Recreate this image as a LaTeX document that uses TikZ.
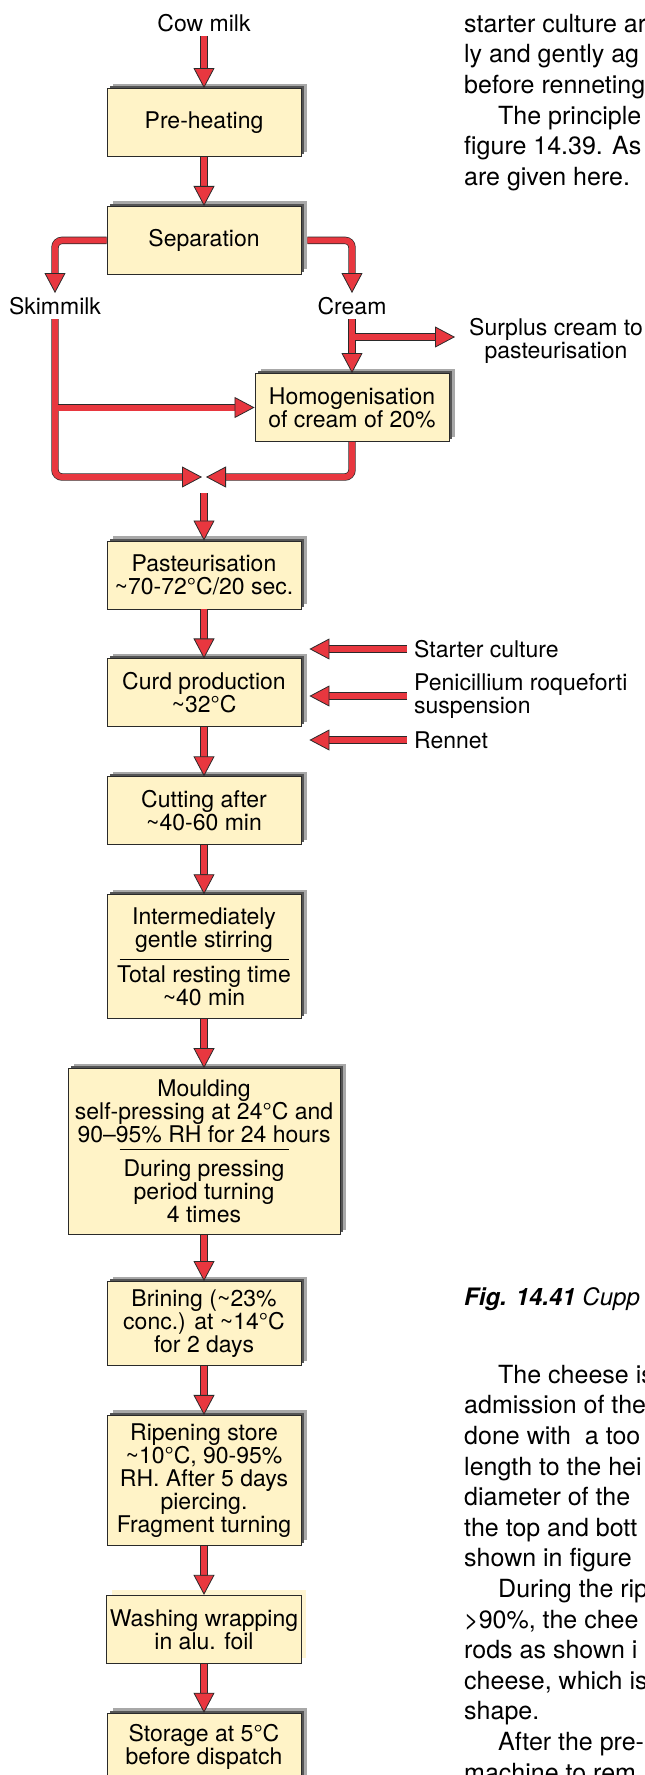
\documentclass[tikz,border=0pt]{standalone}
\usepackage{fontspec}
\setmainfont{TeX Gyre Heros}
\usepackage{tikz}
\usetikzlibrary{arrows.meta,positioning,calc,shadows}
\definecolor{flowred}{HTML}{E8373F}
\definecolor{edge}{HTML}{2A2A2A}
\definecolor{cheese}{HTML}{FFF3C7}
\definecolor{shlight}{HTML}{A8A8A8}
\definecolor{shdark}{HTML}{555555}
\definecolor{shpale}{HTML}{FFF5D2}

\begin{document}
\begin{tikzpicture}[x=1pt,y=-1pt,font=\fontsize{23}{23}\selectfont,node distance=49pt]
\tikzset{plain/.style={draw=edge,line width=0.9pt,fill=cheese,minimum width=194pt,minimum height=68pt,inner xsep=3pt,inner ysep=7.5pt,align=center}, box/.style={plain,drop shadow={shadow xshift=6pt,shadow yshift=5pt,fill=shlight,opacity=1},drop shadow={shadow xshift=2.5pt,shadow yshift=2.5pt,fill=shdark,opacity=1}}, pbox/.style={plain,drop shadow={shadow xshift=5pt,shadow yshift=5pt,fill=shpale,opacity=1}}, lbl/.style={inner xsep=2pt,inner ysep=4pt}, side/.style={inner sep=0pt,anchor=west,align=left}, txt/.style={inner sep=0pt,anchor=north west,align=left,font=\fontsize{25}{30.6}\selectfont}, rule/.style={draw=black,line width=1.3pt}, flow/.style={preaction={draw=edge,line width=7.4pt,arrows=-,shorten >=14pt},draw=flowred,line width=6pt,-{Triangle[length=20pt,width=21pt,fill=flowred,color=edge,line width=0.8pt]}}}
\useasboundingbox (0,0) rectangle (645,1775);
\node[lbl] (cow) at (204,23) {Cow milk};
\node[box] (pre) at (204,122.5) {Pre-heating};
\node[box,below=of pre] (sep) {Separation};
\node[lbl] (skim) at (55,306) {Skimmilk};
\node[lbl] (cream) at (352,306) {Cream};
\node[lbl,align=center,inner sep=0pt] (surplus) at (556,341) {Surplus cream to\\pasteurisation};
\node[box] (homog) at (352,407.5) {Homogenisation\\of cream of 20\%};
\coordinate (crmJ) at (355,337);
\coordinate (mrgL) at (202,477);
\coordinate (mrgR) at (206,477);
\coordinate (mrgO) at (204,493);
\node[box] (past) at (204,575) {Pasteurisation\\\textasciitilde 70-72°C/20 sec.};
\node[box,below=of past] (curd) {Curd production\\\textasciitilde 32°C};
\node[box,below=of curd] (cut) {Cutting after\\\textasciitilde 40-60 min};
\node[box,below=of cut,minimum height=124pt] (stir) {Intermediately\\gentle stirring\\[12pt]Total resting time\\\textasciitilde 40 min};
\node[box,below=of stir,minimum width=272pt,minimum height=166pt] (mould) {Moulding\\self-pressing at 24°C and\\90--95\% RH for 24 hours\\[11pt]During pressing\\period turning\\4 times};
\node[box,below=46pt of mould,minimum height=84pt] (brine) {Brining (\textasciitilde 23\%\\conc.) at \textasciitilde 14°C\\for 2 days};
\node[box,below=of brine,minimum height=130pt] (ripe) {Ripening store\\\textasciitilde 10°C, 90-95\%\\RH. After 5 days\\piercing.\\Fragment turning};
\node[pbox,below=of ripe] (wash) {Washing wrapping\\in alu. foil};
\node[box,below=of wash] (store) {Storage at 5°C\\before dispatch};
\node[side] (starter) at (414,649) {Starter culture};
\node[side] (penic) at (414,696) {Penicillium roqueforti\\suspension};
\node[side] (rennet) at (414,740) {Rennet};
\draw[rule] ([xshift=-84.5pt,yshift=-3pt]stir.center) -- ([xshift=84.5pt,yshift=-3pt]stir.center);
\draw[rule] ([xshift=-84.5pt,yshift=2pt]mould.center) -- ([xshift=84.5pt,yshift=2pt]mould.center);
% milk side
\draw[flow] (cow) -- (pre);\draw[flow] (pre) -- (sep);
\draw[flow,rounded corners=7pt] (sep.west) -| (skim.north);
\draw[flow,rounded corners=7pt] ([xshift=6pt]sep.east) -| (cream.north);
\draw[flow,rounded corners=7pt] (skim.south) |- (mrgL);
\draw[flow] ([xshift=3pt]skim.south |- homog.west) -- (homog.west);
\draw[flow] (cream) -- (homog);
\draw[flow] (crmJ) -- ([xshift=-14pt]surplus.west |- crmJ);
\draw[flow,rounded corners=7pt] (homog.south) |- (mrgR);
\draw[flow] (mrgO) -- (past);
% cheese line
\draw[flow] (past) -- (curd);\draw[flow] (curd) -- (cut);\draw[flow] (cut) -- (stir);\draw[flow] (stir) -- (mould);\draw[flow] (mould) -- (brine);\draw[flow] (brine) -- (ripe);\draw[flow] (ripe) -- (wash);\draw[flow] (wash) -- (store);
\draw[flow] ([xshift=-7pt]starter.west) -- ([xshift=8pt]curd.east |- starter.west);
\draw[flow] ([xshift=-7pt]penic.west) -- ([xshift=8pt]curd.east |- penic.west);
\draw[flow] ([xshift=-7pt]rennet.west) -- ([xshift=8pt]curd.east |- rennet.west);
% page text
\node[txt] (bodyA) at (464,10.6) {\strut starter culture ar\\ly and gently ag\\before renneting\\\hspace*{34pt}The principle\\figure 14.39. As\\are given here.};
\node[inner sep=0pt,anchor=base west,font=\fontsize{24}{30.6}\selectfont] (figcap) at (464,1305) {\textbf{\textit{Fig. 14.41}} \textit{Cupp}};
\node[txt] (bodyB) at (464,1361.6) {\strut\hspace*{34pt}The cheese is\\admission of the\\done with\ \ a too\\length to the hei\\diameter of the\\the top and bott\\shown in figure\\\hspace*{34pt}During the rip\\>90\%, the chee\\rods as shown i\\cheese, which is\\shape.\\\hspace*{34pt}After the pre-\\machine to rem};
\end{tikzpicture}
\end{document}
